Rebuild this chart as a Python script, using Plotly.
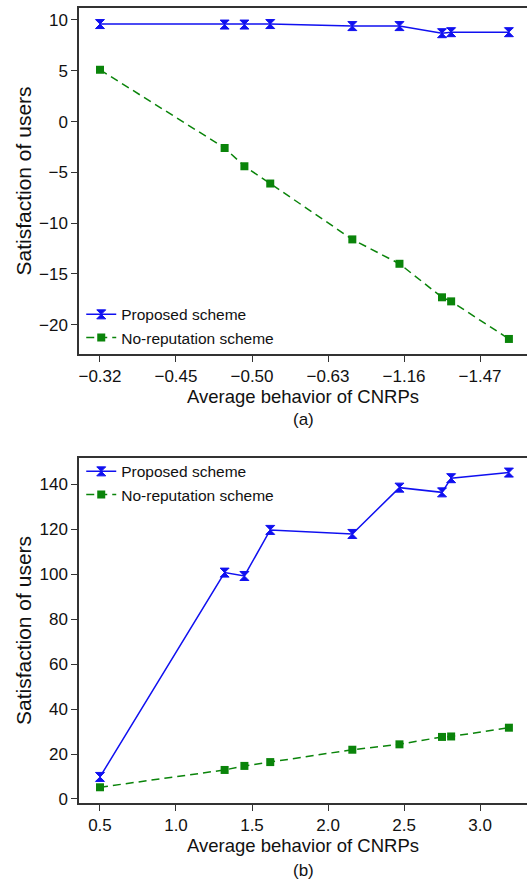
import plotly.graph_objects as go

# Data
x_vals = [0.5, 1.32, 1.45, 1.62, 2.16, 2.47, 2.75, 2.81, 3.19]
top_proposed = [9.6, 9.55, 9.55, 9.6, 9.4, 9.4, 8.7, 8.8, 8.8]
top_norep = [5.1, -2.6, -4.4, -6.1, -11.6, -14.0, -17.3, -17.7, -21.4]
bot_proposed = [9.8, 100.7, 99.2, 119.7, 117.9, 138.5, 136.4, 142.7, 145.2]
bot_norep = [5.2, 12.9, 14.7, 16.4, 21.9, 24.3, 27.6, 27.8, 31.7]

tick_vals = [0.5, 1.0, 1.5, 2.0, 2.5, 3.0]
top_tick_text = ["\u22120.32", "\u22120.45", "\u22120.50", "\u22120.63", "\u22121.16", "\u22121.47"]
bot_tick_text = ["0.5", "1.0", "1.5", "2.0", "2.5", "3.0"]

BLUE = "#1010F0"
GREEN = "#0A840A"
AX = "#333333"
FONT = "Liberation Sans, Arial, sans-serif"

fig = go.Figure()

def add_pair(xa, ya, yp, yn, legend):
    fig.add_trace(go.Scatter(
        x=x_vals, y=yp, name="Proposed scheme", mode="lines+markers",
        line=dict(color=BLUE, width=1.5),
        marker=dict(symbol="hourglass", size=9, color=BLUE, line=dict(color=BLUE, width=1)),
        xaxis=xa, yaxis=ya, legend=legend))
    fig.add_trace(go.Scatter(
        x=x_vals, y=yn, name="No-reputation scheme", mode="lines+markers",
        line=dict(color=GREEN, width=1.5, dash="8px,5px"),
        marker=dict(symbol="square", size=8, color=GREEN),
        xaxis=xa, yaxis=ya, legend=legend))

add_pair("x", "y", top_proposed, top_norep, "legend")
add_pair("x2", "y2", bot_proposed, bot_norep, "legend2")

top_dom = [0.5648, 1.0]
bot_dom = [0.0, 0.434]

axis_common = dict(showline=True, linecolor=AX, linewidth=1.5, ticks="outside",
                   ticklen=6, tickcolor=AX, tickwidth=1.2, showgrid=False, zeroline=False,
                   tickfont=dict(size=17, color="#111", family=FONT))

xt = dict(text="Average behavior of CNRPs", standoff=1, font=dict(size=18.5))
yt = dict(text="Satisfaction of users", standoff=2, font=dict(size=21))

fig.update_layout(
    width=527, height=883,
    margin=dict(l=79, r=0, t=8, b=80),
    plot_bgcolor="white", paper_bgcolor="white",
    font=dict(family=FONT, size=16, color="#111"),
    xaxis=dict(domain=[0, 1], range=[0.362, 3.309], anchor="y", mirror=True,
               tickvals=tick_vals, ticktext=top_tick_text, title=xt, **axis_common),
    yaxis=dict(domain=top_dom, range=[-22.88, 11.18], anchor="x",
               tickvals=[-20, -15, -10, -5, 0, 5, 10], title=yt, **axis_common),
    xaxis2=dict(domain=[0, 1], range=[0.362, 3.309], anchor="y2", mirror=True,
                tickvals=tick_vals, ticktext=bot_tick_text, title=xt, **axis_common),
    yaxis2=dict(domain=bot_dom, range=[-1.8, 151.7], anchor="x2",
                tickvals=[0, 20, 40, 60, 80, 100, 120, 140], title=yt, **axis_common),
    legend=dict(x=0.005, y=0.5648 - 0.001, xanchor="left", yanchor="bottom",
                bgcolor="rgba(0,0,0,0)", font=dict(size=15.5), tracegroupgap=0,
                itemwidth=30),
    legend2=dict(x=0.005, y=0.434 + 0.004, xanchor="left", yanchor="top",
                 bgcolor="rgba(0,0,0,0)", font=dict(size=15.5), tracegroupgap=0,
                 itemwidth=30),
    annotations=[
        dict(text="(a)", x=0.5, y=419, xref="paper", yref="paper", showarrow=False,
             font=dict(size=17)),
        dict(text="(b)", x=0.5, y=870, xref="paper", yref="paper", showarrow=False,
             font=dict(size=17)),
    ],
)

# convert pixel y of annotations into paper coords
plot_h = 883 - 8 - 80
for ann in fig.layout.annotations:
    ann.y = (883 - 80 - ann.y) / plot_h
    ann.yanchor = "middle"

fig.write_html("out.html")
